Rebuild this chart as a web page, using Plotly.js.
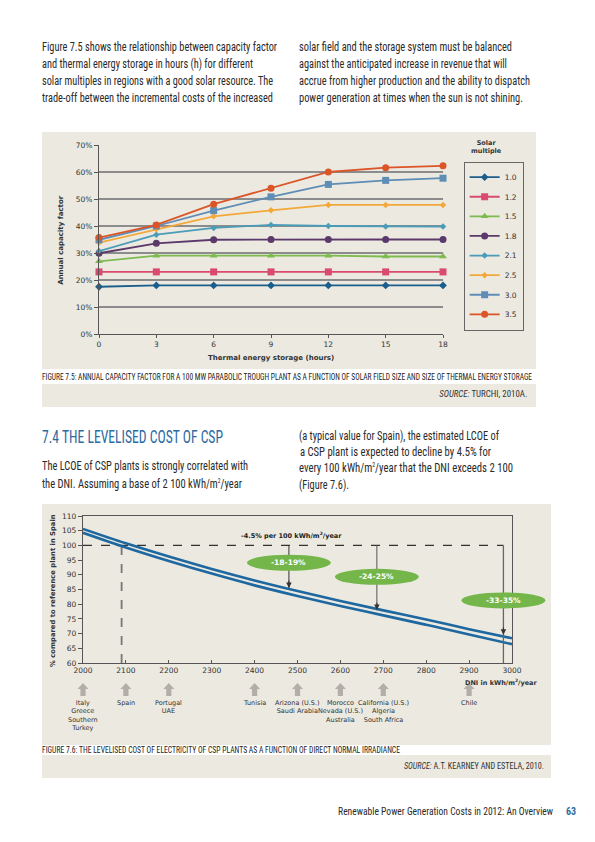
<!DOCTYPE html>
<html>
<head>
<meta charset="utf-8">
<script src="https://cdn.plot.ly/plotly-3.0.1.min.js"></script>
<style>
  html, body { margin:0; padding:0; background:#fff; }
  body { width:595px; height:842px; position:relative; overflow:hidden;
         font-family:'Liberation Sans Narrow','Roboto Condensed','DejaVu Sans Condensed','Liberation Sans',sans-serif; color:#222; }
  .abs { position:absolute; }
  .tl { position:absolute; white-space:nowrap; font-size:13px; line-height:17px; transform-origin:left center; color:#2a2a2a; }
  .beige { position:absolute; background:#ece9e1; }
  .cap { position:absolute; white-space:nowrap; font-size:8.5px; line-height:10px; transform-origin:left center; color:#222; }
  .src { position:absolute; white-space:nowrap; font-size:8.5px; line-height:10px; transform-origin:right center; color:#333; }
  .src i { font-style:italic; }
</style>
</head>
<body>
<!-- top paragraph -->
<div class="tl fit" data-w="235" style="left:42px;top:38px">Figure 7.5 shows the relationship between capacity factor</div>
<div class="tl fit" data-w="211" style="left:42px;top:55px">and thermal energy storage in hours (h) for different</div>
<div class="tl fit" data-w="231" style="left:42px;top:72px">solar multiples in regions with a good solar resource. The</div>
<div class="tl fit" data-w="231" style="left:42px;top:89px">trade-off between the incremental costs of the increased</div>
<div class="tl fit" data-w="213" style="left:299px;top:38px">solar field and the storage system must be balanced</div>
<div class="tl fit" data-w="208" style="left:299px;top:55px">against the anticipated increase in revenue that will</div>
<div class="tl fit" data-w="231" style="left:299px;top:72px">accrue from higher production and the ability to dispatch</div>
<div class="tl fit" data-w="224" style="left:299px;top:89px">power generation at times when the sun is not shining.</div>

<!-- figure 7.5 box -->
<div class="beige" style="left:42px;top:132px;width:494px;height:237px"></div>
<div class="beige" style="left:42px;top:384px;width:494px;height:23px"></div>
<div id="chart1" class="abs" style="left:42px;top:132px;width:494px;height:237px"></div>
<div class="cap fit" data-w="490" style="left:42px;top:372px">FIGURE 7.5: ANNUAL CAPACITY FACTOR FOR A 100 MW PARABOLIC TROUGH PLANT AS A FUNCTION OF SOLAR FIELD SIZE AND SIZE OF THERMAL ENERGY STORAGE</div>
<div class="src fitr" data-w="88" style="right:68px;top:389px"><i>SOURCE:</i> TURCHI, 2010A.</div>

<!-- section 7.4 -->
<div class="tl fit" data-w="181" style="left:42px;top:427px;font-size:19px;line-height:20px;color:#2c6ba2">7.4 THE LEVELISED COST OF CSP</div>
<div class="tl fit" data-w="206" style="left:42px;top:457px">The LCOE of CSP plants is strongly correlated with</div>
<div class="tl fit" data-w="200" style="left:42px;top:475px">the DNI. Assuming a base of 2 100 kWh/m<sup style="font-size:7px;line-height:0">2</sup>/year</div>
<div class="tl fit" data-w="200" style="left:299px;top:427px">(a typical value for Spain), the estimated LCOE of</div>
<div class="tl fit" data-w="191" style="left:300px;top:443px">a CSP plant is expected to decline by 4.5% for</div>
<div class="tl fit" data-w="214" style="left:299px;top:459px">every 100 kWh/m<sup style="font-size:7px;line-height:0">2</sup>/year that the DNI exceeds 2 100</div>
<div class="tl fit" data-w="50" style="left:299px;top:476px">(Figure 7.6).</div>

<!-- figure 7.6 box -->
<div class="beige" style="left:42px;top:504px;width:509px;height:241px"></div>
<div class="beige" style="left:42px;top:755px;width:509px;height:23px"></div>
<div id="chart2" class="abs" style="left:42px;top:504px;width:509px;height:241px"></div>
<div class="cap fit" data-w="358" style="left:42px;top:745px">FIGURE 7.6: THE LEVELISED COST OF ELECTRICITY OF CSP PLANTS AS A FUNCTION OF DIRECT NORMAL IRRADIANCE</div>
<div class="src fitr" data-w="140" style="right:51px;top:761px"><i>SOURCE:</i> A.T. KEARNEY AND ESTELA, 2010.</div>

<!-- footer -->
<div class="tl fitr" data-w="215" style="right:42px;top:805px;font-size:10.5px;line-height:13px;transform-origin:right center">Renewable Power Generation Costs in 2012: An Overview</div>
<div class="tl" style="left:566px;top:805px;font-size:10px;line-height:13px;color:#2c6ba2;font-weight:bold">63</div>

<script>
// ---------- Figure 7.5 data ----------
const storageHours = [0, 3, 6, 9, 12, 15, 18];
const solarMultiples = ['1.0', '1.2', '1.5', '1.8', '2.1', '2.5', '3.0', '3.5'];
const cf_1_0 = [17.5, 18.0, 18.0, 18.0, 18.0, 18.0, 18.0];
const cf_1_2 = [23.0, 23.0, 23.0, 23.0, 23.0, 23.0, 23.0];
const cf_1_5 = [26.9, 29.0, 29.0, 29.0, 29.0, 28.7, 28.7];
const cf_1_8 = [29.9, 33.6, 34.9, 35.0, 35.0, 35.0, 35.0];
const cf_2_1 = [30.7, 36.8, 39.3, 40.4, 40.0, 39.8, 39.8];
const cf_2_5 = [33.8, 38.8, 43.6, 45.8, 47.8, 47.8, 47.8];
const cf_3_0 = [34.9, 40.0, 45.7, 50.8, 55.4, 56.9, 57.7];
const cf_3_5 = [35.7, 40.4, 48.1, 54.0, 60.0, 61.6, 62.3];
const cfSeries = [cf_1_0, cf_1_2, cf_1_5, cf_1_8, cf_2_1, cf_2_5, cf_3_0, cf_3_5];
const cfTicks = [0, 10, 20, 30, 40, 50, 60, 70];
const cfTickText = ['0%', '10%', '20%', '30%', '40%', '50%', '60%', '70%'];

// ---------- Figure 7.6 data ----------
const dni = [2000, 2100, 2200, 2300, 2400, 2500, 2600, 2700, 2800, 2900, 3000];
const lcoeUpper = [105.6, 100.7, 96.2, 92.0, 88.1, 84.5, 81.1, 77.9, 74.8, 71.5, 68.4];
const lcoeLower = [104.3, 99.3, 94.7, 90.4, 86.4, 82.8, 79.4, 76.2, 73.0, 69.7, 66.4];
const referenceDNI = 2090;
const referenceLevel = 100;
const savingsDNI = [2480, 2685, 2980];
const savingsTip = [85.5, 78.0, 69.6];
const savingsLabelY = [94.1, 89.3, 81.3];
const savingsLabels = ['-18-19%', '-24-25%', '-33-35%'];
const countryDNI = [2000, 2100, 2200, 2400, 2500, 2600, 2700, 2900];
const countryNames = ['Italy<br>Greece<br>Southern<br>Turkey', 'Spain', 'Portugal<br>UAE', 'Tunisia',
  'Arizona (U.S.)<br>Saudi Arabia', 'Morocco<br>Nevada (U.S.)<br>Australia',
  'California (U.S.)<br>Algeria<br>South Africa', 'Chile'];

const chartFont = 'DejaVu Sans, Verdana, sans-serif';

// ---------- Chart 1 ----------
const colors1 = ['#1b5e8c', '#d94a6e', '#7dbb4f', '#5b3a6b', '#4b9cb8', '#f2a93a', '#5e8db5', '#dc5528'];
const symbols1 = ['diamond', 'square', 'triangle-up', 'circle', 'diamond', 'diamond', 'square', 'circle'];
const sizes1 = [6, 7, 7, 7, 5, 5, 7, 7];
const traces1 = cfSeries.map((ys, i) => ({
  x: storageHours, y: ys, name: solarMultiples[i], type: 'scatter', mode: 'lines+markers',
  line: {color: colors1[i], width: 1.8},
  marker: {color: colors1[i], symbol: symbols1[i], size: sizes1[i]},
  legendgroup: 'g' + i, cliponaxis: false
}));
const layout1 = {
  width: 494, height: 237,
  margin: {l: 57, r: 88, t: 13, b: 35},
  paper_bgcolor: 'rgba(0,0,0,0)', plot_bgcolor: 'rgba(0,0,0,0)',
  font: {family: chartFont, size: 7.5, color: '#333'},
  xaxis: {range: [0, 18], tickvals: storageHours, showgrid: false, zeroline: false,
          showline: true, linecolor: '#555', linewidth: 1, ticks: 'outside', ticklen: 3, tickcolor: '#555',
          tickfont: {size: 7.5}},
  yaxis: {range: [0, 70], tickvals: cfTicks, ticktext: cfTickText, showgrid: true, gridcolor: '#8c8c8c', gridwidth: 1.3,
          zeroline: false, showline: true, linecolor: '#555', linewidth: 1, ticks: 'outside', ticklen: 4,
          tickcolor: '#555', tickfont: {size: 7.5}},
  showlegend: true,
  legend: {x: 1.06, y: 0.912, xanchor: 'left', yanchor: 'top', bordercolor: '#666', borderwidth: 1,
           bgcolor: 'rgba(0,0,0,0)', font: {size: 7.5, family: chartFont}, traceorder: 'grouped',
           tracegroupgap: 0.6, itemwidth: 30},
  annotations: [
    {xref: 'paper', yref: 'paper', x: 1.125, y: 1.04, text: '<b>Solar<br>multiple</b>', showarrow: false,
     font: {size: 6.5}, xanchor: 'center', yanchor: 'top'},
    {xref: 'paper', yref: 'paper', x: -0.13, y: 0.5, text: '<b>Annual capacity factor</b>', showarrow: false,
     textangle: -90, font: {size: 7}},
    {xref: 'paper', yref: 'paper', x: 0.5, y: -0.125, text: '<b>Thermal energy storage (hours)</b>', showarrow: false,
     font: {size: 7}, yanchor: 'middle'}
  ]
};
Plotly.newPlot('chart1', traces1, layout1, {displayModeBar: false, staticPlot: true});

// ---------- Chart 2 ----------
const blue2 = '#1d68a0';
const plotW2 = 429, plotH2 = 147;
const px = v => v / plotW2, py = v => v / plotH2;
const xPaper = d => (d - 2000) / 1000;
const yPaper = v => (v - 60) / 50;
const traces2 = [
  {x: dni, y: lcoeUpper, type: 'scatter', mode: 'lines', line: {color: blue2, width: 2.6, shape: 'spline', smoothing: 1}, showlegend: false},
  {x: dni, y: lcoeLower, type: 'scatter', mode: 'lines', line: {color: blue2, width: 2.6, shape: 'spline', smoothing: 1}, showlegend: false}
];
const shapes2 = [
  {type: 'line', xref: 'x', yref: 'y', x0: dni[0], x1: savingsDNI[2], y0: referenceLevel, y1: referenceLevel,
   line: {color: '#333', width: 1.2, dash: 'dash'}, layer: 'below'},
  {type: 'line', xref: 'x', yref: 'y', x0: referenceDNI, x1: referenceDNI, y0: 60, y1: referenceLevel,
   line: {color: '#777', width: 1.8, dash: 'dash'}, layer: 'below'},
  {type: 'line', xref: 'x', yref: 'y', x0: savingsDNI[0], x1: savingsDNI[0], y0: savingsTip[0], y1: referenceLevel,
   line: {color: '#333', width: 1}},
  {type: 'line', xref: 'x', yref: 'y', x0: savingsDNI[1], x1: savingsDNI[1], y0: savingsTip[1], y1: referenceLevel,
   line: {color: '#555', width: 1}},
  {type: 'line', xref: 'x', yref: 'y', x0: savingsDNI[2], x1: savingsDNI[2], y0: 60, y1: referenceLevel,
   line: {color: '#666', width: 1.3}}
];
savingsDNI.forEach((xc, i) => {
  shapes2.push({type: 'circle', xref: 'paper', yref: 'paper', x0: xPaper(xc) - px(42), x1: xPaper(xc) + px(42),
    y0: yPaper(savingsLabelY[i]) - py(8), y1: yPaper(savingsLabelY[i]) + py(8), fillcolor: '#74b64a', line: {width: 0}, layer: 'above'});
});
// grey block arrows under the x axis, pointing up at each country's DNI
countryDNI.forEach(d => {
  const cx = xPaper(d), tip = py(-20);
  const p = [
    [cx, tip], [cx + px(5.5), tip - py(6)], [cx + px(2.6), tip - py(6)], [cx + px(2.6), tip - py(13)],
    [cx - px(2.6), tip - py(13)], [cx - px(2.6), tip - py(6)], [cx - px(5.5), tip - py(6)]
  ];
  shapes2.push({type: 'path', xref: 'paper', yref: 'paper',
    path: 'M' + p.map(q => q[0].toFixed(5) + ',' + q[1].toFixed(5)).join(' L') + ' Z',
    fillcolor: '#b3afa8', line: {width: 0}});
});
const ann2 = [];
savingsDNI.forEach((xc, i) => {
  ann2.push({x: xc, y: savingsTip[i], xref: 'x', yref: 'y', ax: 0, ay: -9, text: '', showarrow: true,
    arrowhead: 2, arrowsize: 1.1, arrowwidth: 1, arrowcolor: '#333'});
  ann2.push({x: xc, y: savingsLabelY[i], xref: 'x', yref: 'y', text: '<b>' + savingsLabels[i] + '</b>',
    showarrow: false, font: {color: '#fff', size: 7.5}});
});
ann2.push({x: 2486, y: 103.4, xref: 'x', yref: 'y', text: '<b>-4.5% per 100 kWh/m<sup>2</sup>/year</b>',
  showarrow: false, font: {size: 6.5, color: '#222'}});
ann2.push({xref: 'paper', yref: 'paper', x: -0.084, y: 0.497, text: '<b>% compared to reference plant in Spain</b>',
  showarrow: false, textangle: -90, font: {size: 6.8}});
ann2.push({xref: 'paper', yref: 'paper', x: 1.063, y: -0.13, xanchor: 'right', yanchor: 'middle',
  text: '<b>DNI in kWh/m<sup>2</sup>/year</b>', showarrow: false, font: {size: 6.5}});
countryDNI.forEach((xc, i) => {
  ann2.push({x: xc, y: -0.23, xref: 'x', yref: 'paper', text: countryNames[i], showarrow: false,
    yanchor: 'top', font: {size: 6.5, color: '#333'}});
});
const layout2 = {
  width: 509, height: 241,
  margin: {l: 41, r: 39, t: 12, b: 82},
  paper_bgcolor: 'rgba(0,0,0,0)', plot_bgcolor: 'rgba(0,0,0,0)',
  font: {family: chartFont, size: 7.5, color: '#333'},
  showlegend: false,
  xaxis: {range: [2000, 3000], dtick: 100, tick0: 2000, showgrid: false, zeroline: false, showline: true,
          mirror: true, linecolor: '#555', linewidth: 1.2, ticks: 'inside', ticklen: 3, tickcolor: '#555',
          tickfont: {size: 7.5}},
  yaxis: {range: [60, 110], dtick: 5, tick0: 60, showgrid: false, zeroline: false, showline: true,
          mirror: true, linecolor: '#555', linewidth: 1.2, ticks: 'outside', ticklen: 4, tickcolor: '#555',
          tickfont: {size: 7.5}},
  shapes: shapes2,
  annotations: ann2
};
Plotly.newPlot('chart2', traces2, layout2, {displayModeBar: false, staticPlot: true});

// fit text lines to the widths measured on the reference
function fitAll() {
  document.querySelectorAll('div.fit, div.fitr').forEach(el => {
    el.style.transform = 'none';
    const w = el.getBoundingClientRect().width;
    const target = parseFloat(el.dataset.w);
    if (w > 0) el.style.transform = 'scaleX(' + (target / w).toFixed(4) + ')';
  });
}
if (document.fonts && document.fonts.ready) { document.fonts.ready.then(fitAll); } else { fitAll(); }
fitAll();
</script>
</body>
</html>
